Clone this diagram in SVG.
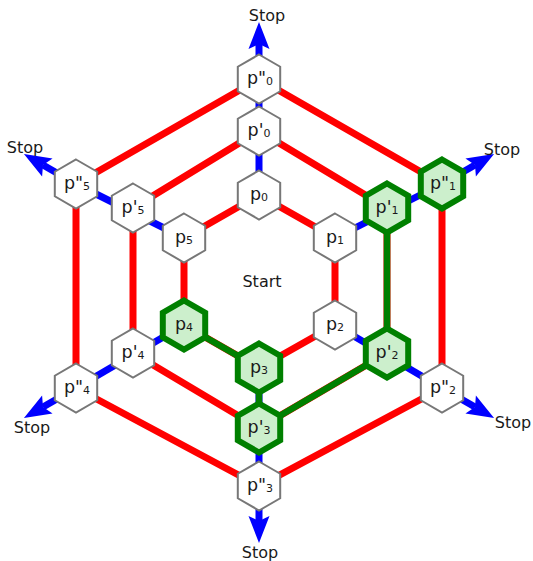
<svg xmlns="http://www.w3.org/2000/svg" xmlns:xlink="http://www.w3.org/1999/xlink" width="533" height="561" viewBox="0 0 533 561">
<style>
  .red{stroke:#ff0000;stroke-width:7;fill:none}
  .blue{stroke:#0000ff;stroke-width:7;fill:none}
  .grn{stroke:#008000;stroke-width:6.5;fill:none;stroke-linejoin:round}
  .arr{stroke:#0000ff;stroke-width:7;fill:none;marker-end:url(#ah)}
  .n{fill:#ffffff;stroke:#777777;stroke-width:2}
  .g{fill:#ccefcc;stroke:#008000;stroke-width:6}
  text{font-family:"DejaVu Sans",Verdana,sans-serif;fill:#1a1a1a}
  .lbl{font-size:17.5px;text-anchor:middle}
  .sub{font-size:11px}
  .stop{font-size:16px;text-anchor:middle}
</style>
<defs>
  <polygon id="hex" points="0,-24.5 21.2,-12.25 21.2,12.25 0,24.5 -21.2,12.25 -21.2,-12.25"/>
  <marker id="ah" markerUnits="userSpaceOnUse" orient="auto" refX="5" refY="0" markerWidth="30" markerHeight="24" overflow="visible">
    <path d="M0,-10.5 L27,0 L0,10.5 L5,0 Z" fill="#0000ff"/>
  </marker>
</defs>
<g id="connectors">
  <polygon class="red" points="259,195 335,238 335,325 259,368 184,325 184,238"/>
  <polygon class="red" points="259,131 387,208 387,353 259,428 133,353 133,208"/>
  <polygon class="red" points="259,79 442,184 442,388 259,486 76,388 76,184"/>
  <line class="blue" x1="259" y1="195" x2="259" y2="79"/>
  <line class="blue" x1="335" y1="238" x2="442" y2="184"/>
  <line class="blue" x1="335" y1="325" x2="442" y2="388"/>
  <line class="blue" x1="259" y1="368" x2="259" y2="486"/>
  <line class="blue" x1="184" y1="325" x2="76" y2="388"/>
  <line class="blue" x1="184" y1="238" x2="76" y2="184"/>
  <polyline class="grn" points="387,208 387,353 259,428 259,368 184,325"/>
  <line class="arr" x1="259" y1="79" x2="259" y2="44"/>
  <line class="arr" x1="442" y1="184" x2="475" y2="165"/>
  <line class="arr" x1="442" y1="388" x2="475" y2="407"/>
  <line class="arr" x1="259" y1="486" x2="259" y2="521"/>
  <line class="arr" x1="76" y1="388" x2="43" y2="407"/>
  <line class="arr" x1="76" y1="184" x2="43" y2="165"/>
</g>
<g id="p0"><use xlink:href="#hex" x="259" y="195" class="n"/><text class="lbl" x="259" y="200">p<tspan class="sub" dy="1">0</tspan></text></g>
<g id="p1"><use xlink:href="#hex" x="335" y="238" class="n"/><text class="lbl" x="335" y="243">p<tspan class="sub" dy="1">1</tspan></text></g>
<g id="p2"><use xlink:href="#hex" x="335" y="325" class="n"/><text class="lbl" x="335" y="330">p<tspan class="sub" dy="1">2</tspan></text></g>
<g id="p3"><use xlink:href="#hex" x="259" y="368" class="g"/><text class="lbl" x="259" y="373">p<tspan class="sub" dy="1">3</tspan></text></g>
<g id="p4"><use xlink:href="#hex" x="184" y="325" class="g"/><text class="lbl" x="184" y="330">p<tspan class="sub" dy="1">4</tspan></text></g>
<g id="p5"><use xlink:href="#hex" x="184" y="238" class="n"/><text class="lbl" x="184" y="243">p<tspan class="sub" dy="1">5</tspan></text></g>
<g id="pp0"><use xlink:href="#hex" x="259" y="131" class="n"/><text class="lbl" x="259" y="136">p'<tspan class="sub" dy="1">0</tspan></text></g>
<g id="pp1"><use xlink:href="#hex" x="387" y="208" class="g"/><text class="lbl" x="387" y="213">p'<tspan class="sub" dy="1">1</tspan></text></g>
<g id="pp2"><use xlink:href="#hex" x="387" y="353" class="g"/><text class="lbl" x="387" y="358">p'<tspan class="sub" dy="1">2</tspan></text></g>
<g id="pp3"><use xlink:href="#hex" x="259" y="428" class="g"/><text class="lbl" x="259" y="433">p'<tspan class="sub" dy="1">3</tspan></text></g>
<g id="pp4"><use xlink:href="#hex" x="133" y="353" class="n"/><text class="lbl" x="133" y="358">p'<tspan class="sub" dy="1">4</tspan></text></g>
<g id="pp5"><use xlink:href="#hex" x="133" y="208" class="n"/><text class="lbl" x="133" y="213">p'<tspan class="sub" dy="1">5</tspan></text></g>
<g id="ppp0"><use xlink:href="#hex" x="259" y="79" class="n"/><text class="lbl" x="260" y="84">p"<tspan class="sub" dy="1">0</tspan></text></g>
<g id="ppp1"><use xlink:href="#hex" x="442" y="184" class="g"/><text class="lbl" x="443" y="189">p"<tspan class="sub" dy="1">1</tspan></text></g>
<g id="ppp2"><use xlink:href="#hex" x="442" y="388" class="n"/><text class="lbl" x="443" y="393">p"<tspan class="sub" dy="1">2</tspan></text></g>
<g id="ppp3"><use xlink:href="#hex" x="259" y="486" class="n"/><text class="lbl" x="260" y="491">p"<tspan class="sub" dy="1">3</tspan></text></g>
<g id="ppp4"><use xlink:href="#hex" x="76" y="388" class="n"/><text class="lbl" x="77" y="393">p"<tspan class="sub" dy="1">4</tspan></text></g>
<g id="ppp5"><use xlink:href="#hex" x="76" y="184" class="n"/><text class="lbl" x="77" y="189">p"<tspan class="sub" dy="1">5</tspan></text></g>
<g id="labels">
  <text class="stop" x="262" y="287">Start</text>
  <text class="stop" x="267" y="21">Stop</text>
  <text class="stop" x="502" y="155">Stop</text>
  <text class="stop" x="513" y="428">Stop</text>
  <text class="stop" x="260" y="558">Stop</text>
  <text class="stop" x="32" y="433">Stop</text>
  <text class="stop" x="25" y="153">Stop</text>
</g>
</svg>
